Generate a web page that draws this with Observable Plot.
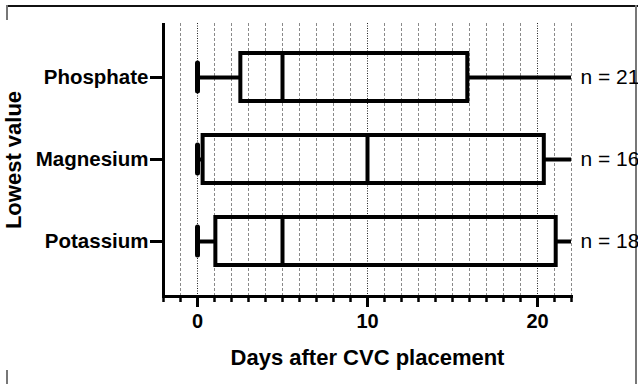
<!DOCTYPE html>
<html>
<head>
<meta charset="utf-8">
<script src="https://cdn.jsdelivr.net/npm/d3@7"></script>
<script src="https://cdn.jsdelivr.net/npm/@observablehq/plot@0.6"></script>
<style>
  html, body { margin: 0; padding: 0; background: white; }
  #wrap { position: relative; width: 638px; height: 384px; overflow: hidden; }
  #wrap svg { position: absolute; left: 0; top: 0; }
  .b { position: absolute; }
  .top { left: 7px; top: 5px; width: 631px; height: 2px; background: #111; }
  .right { left: 635px; top: 5px; width: 2px; height: 379px; background: #777; }
  .l1 { left: 6px; top: 5px; width: 2px; height: 15px; background: #777; }
  .l2 { left: 6px; top: 370px; width: 2px; height: 14px; background: #777; }
</style>
</head>
<body>
<div id="wrap">
  <div class="b top"></div><div class="b right"></div><div class="b l1"></div><div class="b l2"></div>
</div>
<script>
const categories = ["Phosphate", "Magnesium", "Potassium"];
const minVals    = [0, 0, 0];
const q1Vals     = [2.55, 0.33, 1.08];
const medianVals = [5, 10, 5];
const q3Vals     = [15.9, 20.4, 21.1];
const maxVals    = [25, 25, 25];
const nLabels    = ["n = 21", "n = 16", "n = 18"];
const majorTicks = [0, 10, 20];
const minorTicks = d3.range(-2, 23);
const gridDashed = minorTicks.filter(d => d > -2 && !majorTicks.includes(d));
const xDomain = [-2, 22];

const data = categories.map((c, i) => ({
  cat: c, min: minVals[i], q1: q1Vals[i], med: medianVals[i], q3: q3Vals[i], max: maxVals[i], n: nLabels[i]
}));

const chart = Plot.plot({
  width: 638,
  height: 384,
  marginLeft: 163,
  marginRight: 67,
  marginTop: 23,
  marginBottom: 88,
  style: { fontFamily: "'Liberation Sans', Arial, sans-serif", fontSize: "20px", background: "transparent", color: "black", overflow: "visible" },
  x: { domain: xDomain },
  y: { domain: categories, type: "band", paddingInner: 0.41, paddingOuter: 0.36 },
  marks: [
    Plot.ruleX(gridDashed, { stroke: "#8a8a8a", strokeWidth: 1, strokeDasharray: "3,2" }),
    Plot.ruleX(majorTicks, { stroke: "#222", strokeWidth: 1, strokeDasharray: "1,1.5" }),
    Plot.ruleY(data, { y: "cat", x1: "min", x2: "q1", strokeWidth: 4, clip: true }),
    Plot.ruleY(data, { y: "cat", x1: "q3", x2: "max", strokeWidth: 4, clip: true }),
    Plot.barX(data, { y: "cat", x1: "q1", x2: "q3", fill: "none", stroke: "black", strokeWidth: 4, clip: true }),
    Plot.tickX(data, { y: "cat", x: "med", strokeWidth: 4, clip: true }),
    Plot.tickX(data, { y: "cat", x: "min", strokeWidth: 5, insetTop: 10, insetBottom: 10, strokeLinecap: "round", clip: true }),
    Plot.tickX(data, { y: "cat", x: "max", strokeWidth: 5, insetTop: 10, insetBottom: 10, clip: true }),
    Plot.text(data, { y: "cat", x: () => xDomain[1], text: "n", textAnchor: "start", dx: 9, fontSize: 21 }),
    Plot.ruleX([xDomain[0]], { strokeWidth: 3 }),
    Plot.frame({ anchor: "bottom", strokeWidth: 3 }),
    Plot.axisX({ ticks: minorTicks, tickSize: 6, strokeWidth: 2.5, text: null, label: null }),
    Plot.axisX({ ticks: majorTicks, tickSize: 11, tickPadding: 6, strokeWidth: 3, fontWeight: "bold", fontSize: 20, label: null }),
    Plot.axisY({ tickSize: 13, tickPadding: 2, strokeWidth: 3, fontWeight: "bold", fontSize: 20.5, label: null }),
    Plot.text(["Days after CVC placement"], { frameAnchor: "bottom", dy: 61, lineAnchor: "middle", textAnchor: "middle", fontWeight: "bold", fontSize: 22 }),
    Plot.text(["Lowest value"], { frameAnchor: "left", dx: -150, rotate: -90, lineAnchor: "middle", textAnchor: "middle", fontWeight: "bold", fontSize: 22 })
  ]
});
document.getElementById("wrap").appendChild(chart);
</script>
</body>
</html>
